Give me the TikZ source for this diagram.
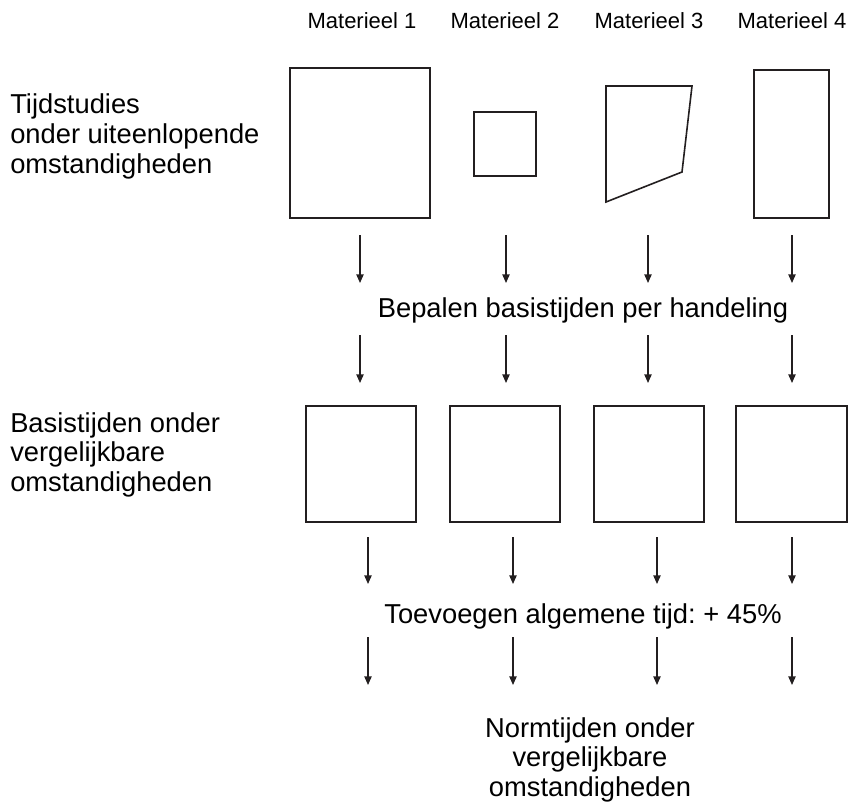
\documentclass[tikz,border=0pt]{standalone}
\usepackage{fontspec}
\setmainfont{Liberation Sans}
\frenchspacing
\usetikzlibrary{arrows.meta,fit}
\definecolor{ink}{RGB}{35,31,32}
\begin{document}
\begin{tikzpicture}[x=0.75pt,y=-0.75pt,
  box/.style={draw=ink,line width=1.2pt,inner sep=0pt,outer sep=0pt},
  flow/.style={draw=ink,line width=1pt,-{Triangle[width=5.5pt,length=6.5pt]}},
  lbl/.style={inner sep=0pt,font=\fontsize{20.5}{22.3}\selectfont},
  head/.style={inner sep=0pt,font=\fontsize{16.5}{19}\selectfont,anchor=base}]
\useasboundingbox (0,0) rectangle (851,803);

% column headers
\node[head] (m1) at (362,28.3) {Materieel 1};
\node[head] (m2) at (505,28.3) {Materieel 2};
\node[head] (m3) at (649,28.3) {Materieel 3};
\node[head] (m4) at (792,28.3) {Materieel 4};

% row 1 shapes
\node[box,fit={(290,68)(430,218)}] (b1) {};
\node[box,fit={(474,112)(536,176)}] (b2) {};
\coordinate (tz1) at (606,86);
\coordinate (tz2) at (692,86);
\coordinate (tz3) at (682,172);
\coordinate (tz4) at (606,202);
\draw[box,line join=miter] (tz1) -- (tz2) -- (tz3) -- (tz4) -- cycle;
\node[box,fit={(754,70)(829,218)}] (b4) {};

% row 2 boxes
\node[box,fit={(306,406)(416,522)}] (c1) {};
\node[box,fit={(450,406)(560,522)}] (c2) {};
\node[box,fit={(594,406)(704,522)}] (c3) {};
\node[box,fit={(736,406)(847,522)}] (c4) {};

% arrows
\foreach \i/\x in {1/360,2/506,3/648,4/792}{
  \coordinate (ra\i) at (\x,235);
  \coordinate (rb\i) at (\x,283);
  \coordinate (rc\i) at (\x,335);
  \coordinate (rd\i) at (\x,383);
  \draw[flow] (ra\i) -- (rb\i);
  \draw[flow] (rc\i) -- (rd\i);
}
\foreach \i/\x in {1/368,2/513,3/657,4/792}{
  \coordinate (re\i) at (\x,537);
  \coordinate (rf\i) at (\x,584);
  \coordinate (rg\i) at (\x,637);
  \coordinate (rh\i) at (\x,685);
  \draw[flow] (re\i) -- (rf\i);
  \draw[flow] (rg\i) -- (rh\i);
}

% texts (base anchor = baseline of last line)
\node[lbl,anchor=base west,align=left] (t1) at (10,173.3)
  {Tijdstudies\\onder uiteenlopende\\omstandigheden};
\node[lbl,anchor=base] (s1) at (583,317.7) {Bepalen basistijden per handeling};
\node[lbl,anchor=base west,align=left] (t2) at (10,491.7)
  {Basistijden onder\\vergelijkbare\\omstandigheden};
\node[lbl,anchor=base] (s2) at (583,623) {Toevoegen algemene tijd: + 45\%};
\node[lbl,anchor=base,align=center] (t3) at (590,796.7)
  {Normtijden onder\\vergelijkbare\\omstandigheden};
\end{tikzpicture}
\end{document}
